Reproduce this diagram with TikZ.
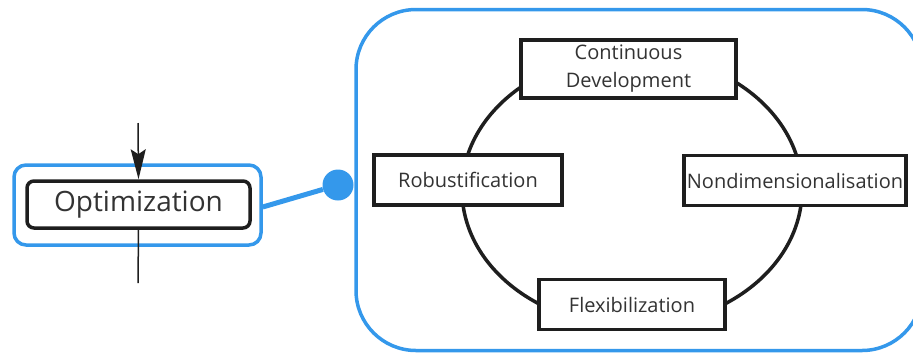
\documentclass[tikz,border=0pt]{standalone}
\usepackage{fontspec}
\setmainfont{Open Sans}
\usetikzlibrary{arrows.meta}
\definecolor{miroblue}{RGB}{52,152,235}
\definecolor{ink}{RGB}{30,30,30}
\definecolor{txt}{RGB}{51,51,51}

\begin{document}
\begin{tikzpicture}[x=1pt,y=-1pt,
	box/.style={draw=ink,line width=3.5pt,fill=white,inner sep=0,minimum height=50pt,text=txt,font=\fontsize{20}{28}\selectfont,align=center}]
	\useasboundingbox (0,0) rectangle (913,354);
	\clip (0,0) rectangle (913,354);
	\draw[miroblue,line width=3.5pt,rounded corners=60pt] (356,9.5) rectangle (922,350.5);
	\draw[ink,line width=3.5pt] (632,190) ellipse [x radius=170pt, y radius=136pt];
	\node[box,minimum width=215pt,minimum height=58pt] (cont) at (628.5,69) {Continuous\\Development};
	\node[box,minimum width=188pt] (rob) at (468,180) {Robustification};
	\node[box,minimum width=222pt] (nondim) at (795,180.5) {Nondimensionalisation};
	\node[box,minimum width=186pt] (flex) at (632,304.5) {Flexibilization};
	\node[draw=miroblue,line width=3.5pt,rounded corners=12pt,minimum width=247pt,minimum height=80pt] (optframe) at (137.5,205) {};
	\node[draw=ink,line width=3.5pt,rounded corners=7pt,fill=white,minimum width=223pt,minimum height=47pt,inner sep=0,text=txt,font=\fontsize{28}{32}\selectfont] (opt) at (138.5,204.5) {Optimization};
	\coordinate (optin) at (138,123);
	\coordinate (optout) at (138,283);
	\draw[ink,line width=1.5pt,-{Stealth[length=30pt,width=15pt,inset=5pt]}] (optin) -- (opt.north);
	\draw[ink,line width=1.5pt] (opt.south) -- (optout);
	\node[circle,fill=miroblue,inner sep=0,minimum size=31pt] (dot) at (338,185) {};
	\draw[miroblue,line width=5pt] ([yshift=-2pt]optframe.east) -- (dot);
\end{tikzpicture}
\end{document}
